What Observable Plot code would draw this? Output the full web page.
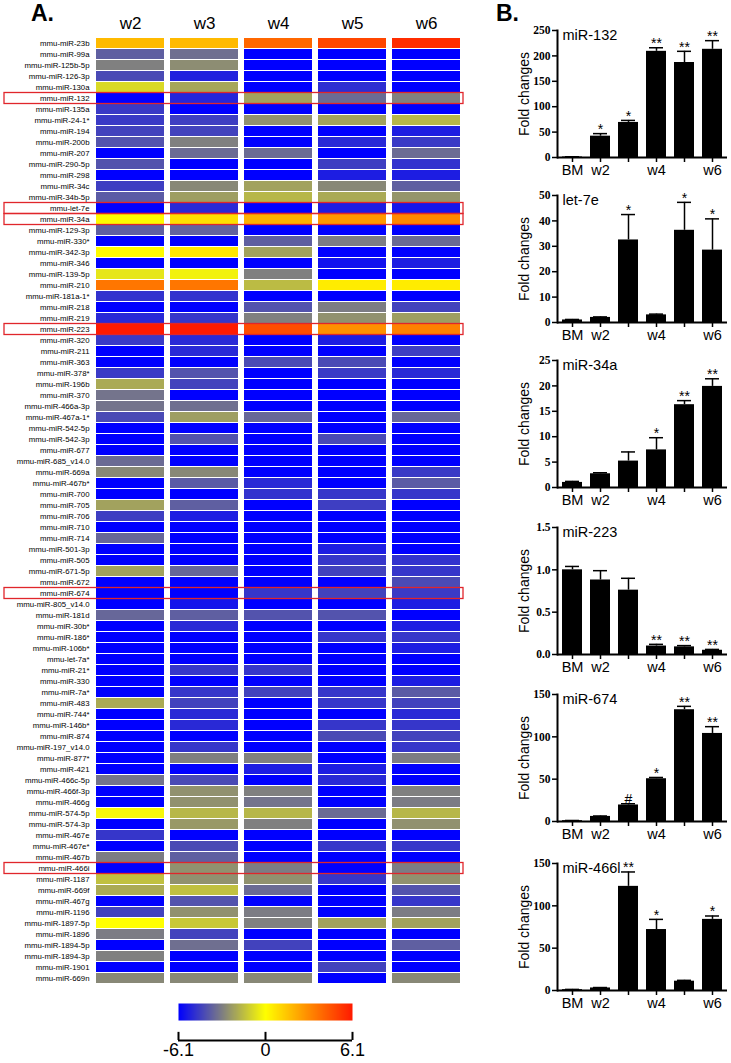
<!DOCTYPE html>
<html><head><meta charset="utf-8">
<script src="https://cdn.jsdelivr.net/npm/d3@7"></script>
<script src="https://cdn.jsdelivr.net/npm/@observablehq/plot@0.6"></script>
<style>
body{margin:0;background:#fff;}
#wrap{position:relative;width:731px;height:1063px;overflow:hidden;font-family:"Liberation Sans",Arial,sans-serif;background:#fff;}
.abs{position:absolute;}
.panel{position:absolute;font-weight:bold;font-size:23px;line-height:26px;font-family:"Liberation Sans",Arial,sans-serif;}
</style></head>
<body><div id="wrap"></div>
<script>
// ---------- Heatmap data ----------
const mirnas = ["mmu-miR-23b","mmu-miR-99a","mmu-miR-125b-5p","mmu-miR-126-3p","mmu-miR-130a","mmu-miR-132","mmu-miR-135a","mmu-miR-24-1*","mmu-miR-194","mmu-miR-200b",
"mmu-miR-207","mmu-miR-290-5p","mmu-miR-298","mmu-miR-34c","mmu-miR-34b-5p","mmu-let-7e","mmu-miR-34a","mmu-miR-129-3p","mmu-miR-330*","mmu-miR-342-3p",
"mmu-miR-346","mmu-miR-139-5p","mmu-miR-210","mmu-miR-181a-1*","mmu-miR-218","mmu-miR-219","mmu-miR-223","mmu-miR-320","mmu-miR-211","mmu-miR-363",
"mmu-miR-378*","mmu-miR-196b","mmu-miR-370","mmu-miR-466a-3p","mmu-miR-467a-1*","mmu-miR-542-5p","mmu-miR-542-3p","mmu-miR-677","mmu-miR-685_v14.0","mmu-miR-669a",
"mmu-miR-467b*","mmu-miR-700","mmu-miR-705","mmu-miR-706","mmu-miR-710","mmu-miR-714","mmu-miR-501-3p","mmu-miR-505","mmu-miR-671-5p","mmu-miR-672",
"mmu-miR-674","mmu-miR-805_v14.0","mmu-miR-181d","mmu-miR-30b*","mmu-miR-186*","mmu-miR-106b*","mmu-let-7a*","mmu-miR-21*","mmu-miR-330","mmu-miR-7a*",
"mmu-miR-483","mmu-miR-744*","mmu-miR-146b*","mmu-miR-874","mmu-miR-197_v14.0","mmu-miR-877*","mmu-miR-421","mmu-miR-466c-5p","mmu-miR-466f-3p","mmu-miR-466g",
"mmu-miR-574-5p","mmu-miR-574-3p","mmu-miR-467e","mmu-miR-467e*","mmu-miR-467b","mmu-miR-466i","mmu-miR-1187","mmu-miR-669f","mmu-miR-467g","mmu-miR-1196",
"mmu-miR-1897-5p","mmu-miR-1896","mmu-miR-1894-5p","mmu-miR-1894-3p","mmu-miR-1901","mmu-miR-669n"];
const weeks = ["w2","w3","w4","w5","w6"];
const w2 = [1.8,-3.8,-3.0,-4.3,-0.9,-6.1,-4.7,-4.7,-4.5,-4.1,
 -6.1,-4.1,-6.1,-4.6,-3.9,-6.1,0.1,-3.8,-6.1,0.1,
 -6.1,-0.6,3.6,-4.9,-6.1,-5.1,6.1,-4.7,-6.1,-6.1,
 -4.7,-2.0,-3.3,-3.3,-4.3,-6.1,-6.1,-6.1,-3.5,-2.8,
 -6.1,-6.1,-2.2,-4.6,-6.1,-3.6,-6.1,-6.1,-2.2,-6.1,
 -6.1,-6.1,-3.6,-6.1,-6.1,-6.1,-6.1,-6.1,-6.1,-6.1,
 -2.0,-6.1,-6.1,-6.1,-6.1,-6.1,-6.1,-3.3,-6.1,-6.1,
 -0.2,-6.1,-4.8,-6.1,-3.1,-6.1,-1.5,-2.0,-6.1,-4.5,
 0.0,-3.1,-6.1,-3.0,-6.1,-2.8];
const w3 = [1.8,-3.4,-2.7,-5.3,-2.1,-5.2,-6.1,-4.6,-4.5,-3.0,
 -3.5,-6.1,-6.1,-2.8,-2.3,-5.1,0.8,-3.7,-6.1,0.6,
 -6.1,-0.3,3.6,-4.9,-6.1,-4.8,6.1,-5.1,-5.1,-6.1,
 -4.1,-4.5,-6.1,-3.4,-2.3,-6.1,-4.1,-6.1,-6.1,-2.8,
 -3.9,-6.1,-3.8,-5.4,-6.1,-6.1,-6.1,-6.1,-3.6,-6.1,
 -6.1,-5.6,-3.8,-5.1,-6.1,-6.1,-6.1,-4.8,-6.1,-4.8,
 -4.5,-5.1,-5.1,-6.1,-4.8,-3.0,-6.1,-4.3,-2.6,-2.6,
 -1.7,-2.4,-6.1,-4.3,-3.8,-2.6,-2.6,-1.5,-4.1,-2.6,
 -1.3,-4.5,-3.4,-6.1,-6.1,-2.8];
const w4 = [4.0,-6.1,-6.1,-6.1,-6.1,-2.2,-6.1,-2.6,-6.1,-6.1,
 -3.5,-6.1,-6.1,-2.2,-1.7,-6.1,2.0,-6.1,-3.8,-2.2,
 -6.1,-3.0,-1.6,-6.1,-4.1,-3.0,4.7,-6.1,-6.1,-4.3,
 -6.1,-6.1,-6.1,-6.1,-3.6,-6.1,-6.1,-6.1,-6.1,-6.1,
 -5.1,-4.9,-6.1,-6.1,-6.1,-6.1,-6.1,-6.1,-6.1,-6.1,
 -4.8,-6.1,-4.1,-6.1,-6.1,-6.1,-6.1,-4.8,-6.1,-4.5,
 -6.1,-6.1,-6.1,-6.1,-6.1,-3.0,-5.4,-6.1,-3.0,-3.3,
 -1.7,-3.0,-6.1,-6.1,-6.1,-3.1,-2.6,-3.5,-6.1,-3.1,
 -3.0,-6.1,-4.5,-6.1,-6.1,-2.8];
const w5 = [4.9,-6.1,-6.1,-6.1,-5.0,-3.5,-6.1,-2.2,-6.1,-5.1,
 -6.1,-4.6,-5.4,-2.8,-2.0,-5.4,2.7,-6.1,-3.1,-6.1,
 -5.7,-6.1,0.5,-6.1,-3.1,-2.6,2.9,-5.4,-6.1,-4.3,
 -4.7,-6.1,-6.1,-6.1,-6.1,-6.1,-4.3,-6.1,-6.1,-6.1,
 -6.1,-4.8,-4.6,-6.1,-6.1,-6.1,-5.4,-4.8,-4.5,-6.1,
 -4.5,-6.1,-4.1,-6.1,-4.8,-6.1,-6.1,-6.1,-6.1,-4.8,
 -4.8,-6.1,-4.8,-4.3,-6.1,-6.1,-5.4,-5.1,-6.1,-6.1,
 -3.5,-6.1,-6.1,-4.8,-6.1,-6.1,-4.8,-6.1,-6.1,-6.1,
 -2.2,-6.1,-6.1,-6.1,-4.5,-6.1];
const w6 = [5.6,-6.1,-6.1,-6.1,-6.1,-3.0,-6.1,-1.7,-5.4,-4.7,
 -3.5,-4.9,-5.4,-3.8,-2.5,-5.6,3.1,-6.1,-3.5,-6.1,
 -5.4,-6.1,0.5,-6.1,-4.5,-2.3,3.3,-6.1,-4.6,-6.1,
 -5.1,-6.1,-6.1,-6.1,-3.6,-6.1,-6.1,-6.1,-6.1,-4.7,
 -3.9,-4.8,-6.1,-6.1,-6.1,-6.1,-6.1,-4.9,-4.8,-4.3,
 -4.7,-5.4,-6.1,-5.4,-4.8,-5.4,-6.1,-6.1,-5.4,-3.9,
 -4.5,-5.1,-4.8,-4.5,-4.8,-3.1,-6.1,-6.1,-3.0,-3.1,
 -1.7,-2.6,-6.1,-4.8,-6.1,-3.1,-2.6,-4.1,-4.8,-3.1,
 -2.2,-6.1,-3.8,-6.1,-6.1,-2.8];
const highlighted = ["mmu-miR-132","mmu-let-7e","mmu-miR-34a","mmu-miR-223","mmu-miR-674","mmu-miR-466i"];
const colorDomain = [-6.1,-3,0,3,6.1];
const colorRange = ["#0000ff","#808080","#ffff00","#ff8c00","#ff1a00"];
const colorTicks = [-6.1,0,6.1];

// ---------- Bar chart data ----------
const barCategories = ["BM","w2","w3","w4","w5","w6"];
const barTickLabels = ["BM","w2","","w4","","w6"];
const miR132Mean = [1,42,69,209,187,213];
const miR132Err  = [0.5,5,4,7,22,17];
const miR132Sig  = ["","*","*","**","**","**"];
const let7eMean = [1.0,2.0,32.5,3.0,36.3,28.5];
const let7eErr  = [0.2,0.2,10,0.3,11,12.3];
const let7eSig  = ["","","*","","*","*"];
const miR34aMean = [1.0,2.7,5.2,7.4,16.3,19.9];
const miR34aErr  = [0.2,0.2,1.8,2.4,0.8,1.5];
const miR34aSig  = ["","","","*","**","**"];
const miR223Mean = [1.0,0.88,0.76,0.10,0.09,0.05];
const miR223Err  = [0.04,0.11,0.14,0.02,0.015,0.01];
const miR223Sig  = ["","","","**","**","**"];
const miR674Mean = [1,6,19.5,50.5,132,104];
const miR674Err  = [0.2,0.5,1.5,1.5,4,8];
const miR674Sig  = ["","","#","*","**","**"];
const miR466lMean = [1,3,123,72,11,84];
const miR466lErr  = [0.3,0.5,17,12,1,4];
const miR466lSig  = ["","","**","*","","*"];

const wrap = document.getElementById("wrap");
function place(node, left, top) {
  const d = document.createElement("div");
  d.className = "abs"; d.style.left = left + "px"; d.style.top = top + "px";
  d.appendChild(node); wrap.appendChild(d);
}
function label(text, left, top) {
  const d = document.createElement("div");
  d.className = "panel"; d.textContent = text;
  d.style.left = left + "px"; d.style.top = top + "px";
  wrap.appendChild(d);
}

const colorScale = {type: "linear", domain: colorDomain, range: colorRange, interpolate: "rgb", clamp: true};

// ---------- Heatmap ----------
const cols = [w2, w3, w4, w5, w6];
const heatData = mirnas.flatMap((m, i) => weeks.map((w, j) => ({mirna: m, week: w, value: cols[j][i]})));

const heat = Plot.plot({
  width: 470, height: 995,
  marginLeft: 95, marginRight: 9, marginTop: 33, marginBottom: 7,
  style: {fontFamily: "Liberation Sans, Arial, sans-serif", background: "transparent", color: "black"},
  x: {domain: weeks, paddingInner: 0.08, paddingOuter: 0},
  y: {domain: mirnas, paddingInner: 0.08, paddingOuter: 0},
  color: colorScale,
  marks: [
    Plot.cell(heatData, {x: "week", y: "mirna", fill: "value", inset: 0}),
    Plot.cell(highlighted, {y: d => d, fill: "none", stroke: "#e0262b", strokeWidth: 1.3,
      insetLeft: -91, insetRight: -2, insetTop: -0.5, insetBottom: -0.5}),
    Plot.axisX({anchor: "top", tickSize: 0, tickPadding: 5, fontSize: 17, label: null}),
    Plot.axisY({anchor: "left", tickSize: 0, tickPadding: 6, fontSize: 7.8, label: null})
  ]
});
place(heat, 0, 0);

// ---------- Colour bar ----------
const cbar = Plot.plot({
  width: 470, height: 63,
  marginLeft: 178, marginRight: 118, marginTop: 3, marginBottom: 23,
  style: {fontFamily: "Liberation Sans, Arial, sans-serif", background: "transparent", color: "black"},
  x: {domain: [-6.1, 6.1]},
  y: {domain: [0, 1], axis: null},
  color: colorScale,
  marks: [
    Plot.raster({x1: -6.1, x2: 6.1, y1: 0.54, y2: 1, fill: (x, y) => x, pixelSize: 1}),
    Plot.ruleX(colorTicks, {y1: 0, y2: 0.22, strokeWidth: 2}),
    Plot.ruleY([0], {strokeWidth: 2}),
    Plot.axisX({ticks: colorTicks, tickSize: 0, tickPadding: 3, fontSize: 18, label: null,
      tickFormat: d => d === 0 ? "0" : (d < 0 ? "-" : "") + Math.abs(d).toFixed(1)})
  ]
});
place(cbar, 0, 1000);

// ---------- Bar charts ----------
function barChart(title, means, errs, sig, yDomain, yTicks, yFmt) {
  const data = barCategories.map((c, i) => ({cat: c, mean: means[i], top: means[i] + errs[i], sig: sig[i]}));
  return Plot.plot({
    width: 261, height: 160,
    marginLeft: 87, marginRight: 4, marginTop: 10, marginBottom: 23,
    style: {fontFamily: "Liberation Sans, Arial, sans-serif", background: "transparent", color: "black"},
    x: {domain: barCategories, paddingInner: 0.3, paddingOuter: 0.15},
    y: {domain: yDomain},
    marks: [
      Plot.ruleX(data, {x: "cat", y1: "mean", y2: "top", strokeWidth: 1.5}),
      Plot.tickY(data, {x: "cat", y: "top", strokeWidth: 1.5, insetLeft: 3, insetRight: 3}),
      Plot.barY(data, {x: "cat", y: "mean", fill: "black"}),
      Plot.text(data, {x: "cat", y: "top", text: "sig", dy: -4, fontSize: 14, lineAnchor: "middle"}),
      Plot.ruleY([yDomain[0]], {strokeWidth: 2}),
      Plot.frame({anchor: "left", strokeWidth: 2}),
      Plot.axisY({ticks: yTicks, tickSize: 5, tickPadding: 2, tickFormat: yFmt, fontSize: 11.5,
        fontWeight: "bold", fontFamily: "Liberation Serif, Times New Roman, serif", strokeWidth: 1.5, label: null}),
      Plot.axisX({tickSize: 5, tickPadding: 2, fontSize: 14.5, strokeWidth: 1.5, label: null,
        tickFormat: d => barTickLabels[barCategories.indexOf(d)]}),
      Plot.text([title], {frameAnchor: "top-left", dx: 5, dy: 5, lineAnchor: "middle", textAnchor: "start", fontSize: 14.5}),
      Plot.text(["Fold changes"], {frameAnchor: "left", rotate: -90, dx: -33, textAnchor: "middle", lineAnchor: "middle", fontSize: 14})
    ]
  });
}
const intFmt = d => String(d);
const oneFmt = d => d.toFixed(1);
place(barChart("miR-132", miR132Mean, miR132Err, miR132Sig, [0,250], [0,50,100,150,200,250], intFmt), 470, 20);
place(barChart("let-7e", let7eMean, let7eErr, let7eSig, [0,50], [0,10,20,30,40,50], intFmt), 470, 185);
place(barChart("miR-34a", miR34aMean, miR34aErr, miR34aSig, [0,25], [0,5,10,15,20,25], intFmt), 470, 350);
place(barChart("miR-223", miR223Mean, miR223Err, miR223Sig, [0,1.5], [0,0.5,1.0,1.5], oneFmt), 470, 517);
place(barChart("miR-674", miR674Mean, miR674Err, miR674Sig, [0,150], [0,50,100,150], intFmt), 470, 684);
place(barChart("miR-466l", miR466lMean, miR466lErr, miR466lSig, [0,150], [0,50,100,150], intFmt), 470, 853);

label("A.", 31, 0);
label("B.", 496, 0);
</script>
</body></html>
